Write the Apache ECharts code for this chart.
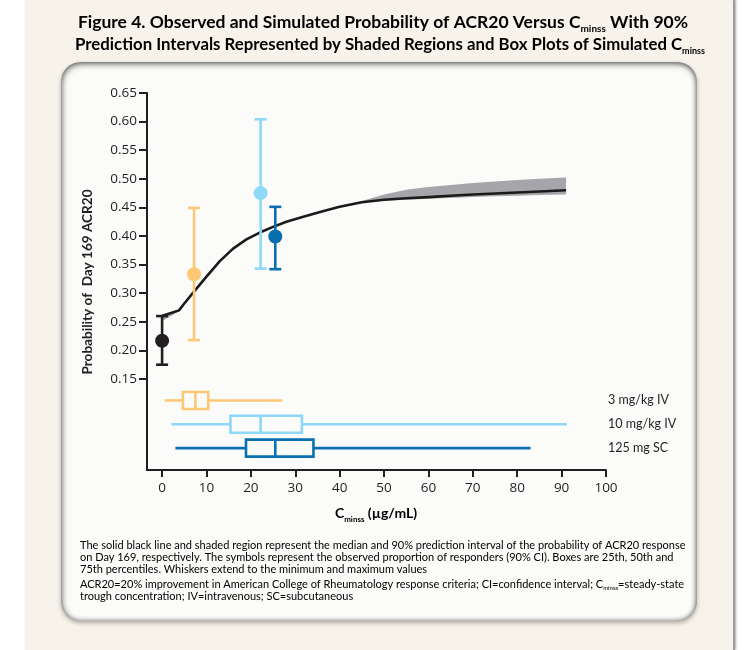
<!DOCTYPE html>
<html><head><meta charset="utf-8">
<script src="https://cdn.jsdelivr.net/npm/echarts@6/dist/echarts.min.js"></script>
<style>
html,body{margin:0;padding:0;background:#fff;}
.page{position:absolute;left:25px;top:0;width:708px;height:650px;background:#F7F3EA;border-right:2px solid #9c9c9c;box-shadow:1px 0 2px rgba(0,0,0,.35);}
.panel{position:absolute;left:61px;top:62px;width:636px;height:559px;border-radius:20px;background:#FBFBF9;box-shadow:inset 1px 2px 6px rgba(0,0,0,.5),inset -1px 0 5px rgba(0,0,0,.4),0 2px 4px rgba(0,0,0,.3);}
#c{position:absolute;left:0;top:0;width:750px;height:650px;}
</style></head>
<body><div class="page"></div><div class="panel"></div><div id="c"></div>
<script>
// ---- data ----
const xTicks = [0, 10, 20, 30, 40, 50, 60, 70, 80, 90, 100];
const yTicks = [0.15, 0.20, 0.25, 0.30, 0.35, 0.40, 0.45, 0.50, 0.55, 0.60, 0.65];

// observed proportion of responders with 90% CI
const obsX    = [0,     7.2,   22.2,  25.5];
const obsY    = [0.217, 0.333, 0.475, 0.399];
const obsLow  = [0.175, 0.218, 0.343, 0.342];
const obsHigh = [0.260, 0.449, 0.604, 0.451];

// simulated median curve and 90% prediction interval
const curveX      = [0,     3.8,    5,     7,     10,    13,    16,    19,    22,    25,    28,    32,    36,    40,    45,    50,     55,     60,     65,     70,     75,     80,     85,     91];
const curveMedian = [0.260, 0.270,  0.282, 0.301, 0.329, 0.356, 0.378, 0.394, 0.406, 0.416, 0.425, 0.434, 0.443, 0.451, 0.459, 0.4635, 0.466,  0.468,  0.4703, 0.4725, 0.4743, 0.476,  0.4778, 0.480];
const curveLower  = [0.251, 0.2685, 0.281, 0.300, 0.328, 0.355, 0.377, 0.393, 0.405, 0.415, 0.424, 0.433, 0.442, 0.450, 0.458, 0.4615, 0.4635, 0.4650, 0.4665, 0.4680, 0.4695, 0.4705, 0.4715, 0.4726];
const curveUpper  = [0.263, 0.2715, 0.283, 0.302, 0.330, 0.357, 0.379, 0.395, 0.407, 0.417, 0.426, 0.435, 0.444, 0.452, 0.461, 0.4725, 0.481,  0.4855, 0.489,  0.4925, 0.4952, 0.4978, 0.500,  0.5022];

// simulated Cminss box plots
const boxNames = ['3 mg/kg IV', '10 mg/kg IV', '125 mg SC'];
const boxMin = [0.6, 2.1, 3.0];
const boxQ1  = [4.7, 15.4, 18.9];
const boxMed = [7.5, 22.2, 25.5];
const boxQ3  = [10.4, 31.5, 34.1];
const boxMax = [27.1, 91.2, 83.0];

// ---- styles ----
const INK = '#231F20';
const FONT = 'Lato';
const TICKFONT = 'Open Sans';
const obsColors = ['#231F20', '#FDC875', '#8ED8F8', '#0A6FAF'];
const boxColors = ['#FDC875', '#8ED8F8', '#0A6FAF'];

const chart = echarts.init(document.getElementById('c'), null, {renderer: 'canvas', width: 750, height: 650});

const subRich = (size, bold, drop) => ({
  m: {fontSize: size, fontWeight: bold ? 'bold' : 'normal', fontFamily: FONT, color: INK, lineHeight: size + 4},
  s: {fontSize: Math.round(size * 0.55), fontWeight: bold ? 'bold' : 'normal', fontFamily: FONT, color: INK, padding: [drop, 0, 0, 0]}
});

const footLines = [
  '{m|The solid black line and shaded region represent the median and 90% prediction interval of the probability of ACR20 response}',
  '{m|on Day 169, respectively. The symbols represent the observed proportion of responders (90% CI). Boxes are 25th, 50th and}',
  '{m|75th percentiles. Whiskers extend to the minimum and maximum values}',
  '{m|ACR20=20% improvement in American College of Rheumatology response criteria; CI=confidence interval; C}{s|minss}{m|=steady-state}',
  '{m|trough concentration; IV=intravenous; SC=subcutaneous}'
];
const footY = [545, 557, 569, 584, 596];

const graphics = [
  {type: 'text', x: 383, y: 22, z: 100, style: {text: '{m|Figure 4. Observed and Simulated Probability of ACR20 Versus C}{s|minss}{m| With 90%}', rich: subRich(17.5, true, 13), align: 'center', verticalAlign: 'middle'}},
  {type: 'text', x: 390, y: 45, z: 100, style: {text: '{m|Prediction Intervals Represented by Shaded Regions and Box Plots of Simulated C}{s|minss}', rich: subRich(16.8, true, 13), align: 'center', verticalAlign: 'middle'}},
  {type: 'text', x: 88, y: 282, rotation: Math.PI / 2, z: 100, style: {text: 'Probability of  Day 169 ACR20', font: 'bold 13.6px ' + FONT, fill: INK, align: 'center', verticalAlign: 'middle'}},
  {type: 'text', x: 376, y: 513, z: 100, style: {text: '{m|C}{s|minss}{m| (µg/mL)}', rich: subRich(14, true, 12), align: 'center', verticalAlign: 'middle'}}
];
footLines.forEach((t, i) => graphics.push({type: 'text', x: 80, y: footY[i], z: 100,
  style: {text: t, rich: subRich(11, false, 8), align: 'left', verticalAlign: 'middle'}}));

const axisLineStyle = {color: INK, width: 2};

const option = {
  animation: false,
  backgroundColor: 'transparent',
  textStyle: {fontFamily: FONT, color: INK},
  graphic: graphics,
  grid: [
    {left: 147, right: 144, top: 93, height: 286},
    {left: 147, right: 144, top: 379, height: 91}
  ],
  xAxis: [
    {gridIndex: 0, type: 'value', min: -3.4, max: 100, show: false, splitLine: {show: false}},
    {gridIndex: 1, type: 'value', min: -3.4, max: 100,
      axisLine: {onZero: false, lineStyle: axisLineStyle},
      axisTick: {customValues: xTicks, length: 7, lineStyle: axisLineStyle},
      axisLabel: {customValues: xTicks, margin: 11, fontSize: 13.5, color: INK, fontFamily: TICKFONT},
      splitLine: {show: false}}
  ],
  yAxis: [
    {gridIndex: 0, type: 'value', min: 0.15, max: 0.65,
      axisLine: {show: true, onZero: false, lineStyle: axisLineStyle},
      axisTick: {customValues: yTicks, length: 8, lineStyle: axisLineStyle},
      axisLabel: {customValues: yTicks, margin: 10, fontSize: 13.5, color: INK, fontFamily: TICKFONT, formatter: v => v.toFixed(2)},
      splitLine: {show: false}},
    {gridIndex: 1, type: 'value', inverse: true, min: 0.1, max: 3.92,
      axisLine: {show: true, onZero: false, lineStyle: axisLineStyle},
      axisTick: {show: false}, axisLabel: {show: false}, splitLine: {show: false}},
    {gridIndex: 1, type: 'value', inverse: true, min: 0.1, max: 3.92, position: 'right',
      axisLine: {show: false, onZero: false}, axisTick: {show: false},
      axisLabel: {customValues: [1, 2, 3], margin: 2, fontSize: 12.5, color: INK, fontFamily: FONT, align: 'left', formatter: v => boxNames[Math.round(v) - 1]},
      splitLine: {show: false}}
  ],
  series: [
    { // prediction band
      type: 'custom', xAxisIndex: 0, yAxisIndex: 0, z: 2, silent: true,
      data: [[curveX[0], curveLower[0]]],
      renderItem: (params, api) => {
        const pts = [];
        for (let i = 0; i < curveX.length; i++) pts.push(api.coord([curveX[i], curveUpper[i]]));
        for (let i = curveX.length - 1; i >= 0; i--) pts.push(api.coord([curveX[i], curveLower[i]]));
        return {type: 'polygon', shape: {points: pts}, style: {fill: '#A6A6AA'}};
      }
    },
    { // median curve
      type: 'line', xAxisIndex: 0, yAxisIndex: 0, z: 3, silent: true,
      data: curveX.map((x, i) => [x, curveMedian[i]]),
      smooth: false, showSymbol: false, symbol: 'none',
      lineStyle: {color: '#1A1A1A', width: 2.6, join: 'round'}
    },
    { // observed proportions with 90% CI
      type: 'custom', xAxisIndex: 0, yAxisIndex: 0, z: 5, silent: true,
      data: obsX.map((x, i) => [x, obsY[i], obsLow[i], obsHigh[i]]),
      encode: {x: 0, y: [1, 2, 3]},
      renderItem: (params, api) => {
        const x = api.value(0);
        const mid = api.coord([x, api.value(1)]);
        const lo = api.coord([x, api.value(2)]);
        const hi = api.coord([x, api.value(3)]);
        const col = obsColors[params.dataIndex];
        const st = {stroke: col, lineWidth: 2.6};
        const hw = 6;
        return {type: 'group', children: [
          {type: 'line', shape: {x1: lo[0], y1: lo[1], x2: hi[0], y2: hi[1]}, style: st},
          {type: 'line', shape: {x1: lo[0] - hw, y1: lo[1], x2: lo[0] + hw, y2: lo[1]}, style: st},
          {type: 'line', shape: {x1: hi[0] - hw, y1: hi[1], x2: hi[0] + hw, y2: hi[1]}, style: st},
          {type: 'circle', shape: {cx: mid[0], cy: mid[1], r: 7}, style: {fill: col}}
        ]};
      }
    },
    { // box plots
      type: 'custom', xAxisIndex: 1, yAxisIndex: 1, z: 3, silent: true,
      data: boxNames.map((n, i) => [i + 1, boxMin[i], boxQ1[i], boxMed[i], boxQ3[i], boxMax[i]]),
      encode: {y: 0, x: [1, 2, 3, 4, 5]},
      renderItem: (params, api) => {
        const row = api.value(0);
        const y = api.coord([0, row])[1];
        const xs = [1, 2, 3, 4, 5].map(d => api.coord([api.value(d), row])[0]);
        const col = boxColors[params.dataIndex];
        const st = {stroke: col, lineWidth: 2.6, fill: null};
        const h = 17;
        return {type: 'group', children: [
          {type: 'line', shape: {x1: xs[0], y1: y, x2: xs[1], y2: y}, style: st},
          {type: 'line', shape: {x1: xs[3], y1: y, x2: xs[4], y2: y}, style: st},
          {type: 'rect', shape: {x: xs[1], y: y - h / 2, width: xs[3] - xs[1], height: h}, style: st},
          {type: 'line', shape: {x1: xs[2], y1: y - h / 2, x2: xs[2], y2: y + h / 2}, style: st}
        ]};
      }
    }
  ]
};
chart.setOption(option);
</script></body></html>
